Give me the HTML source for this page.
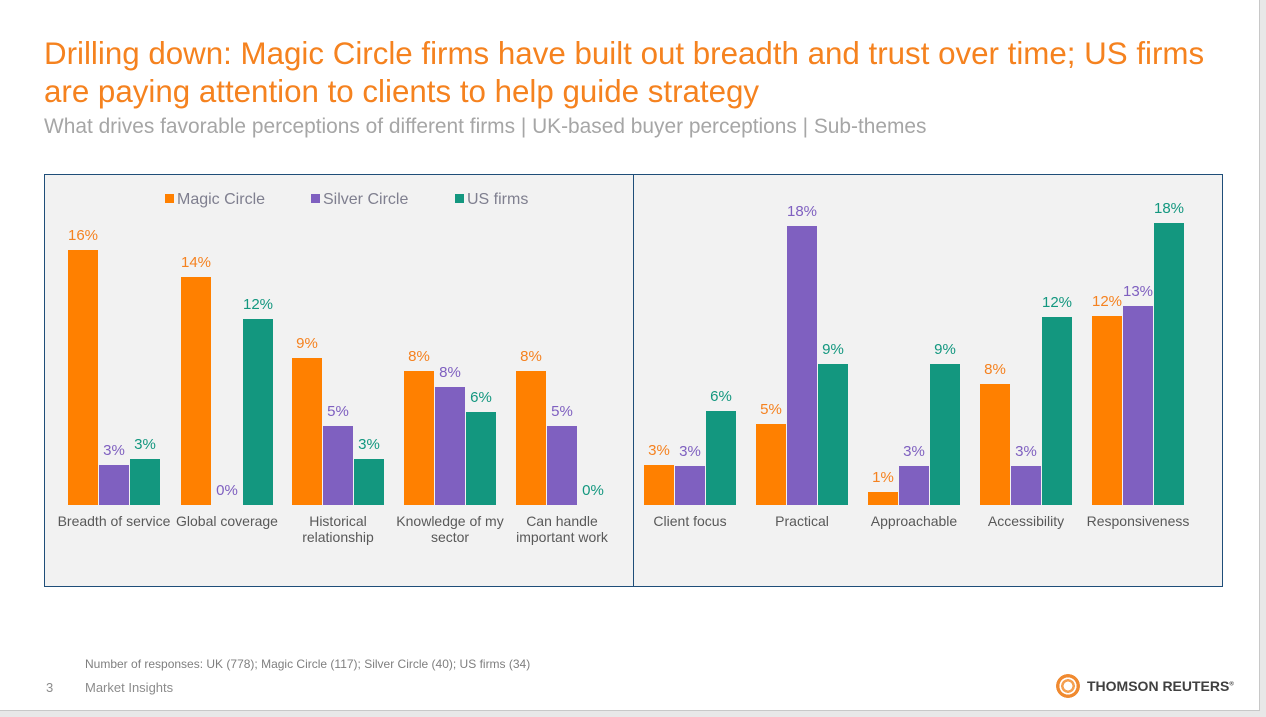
<!DOCTYPE html>
<html><head><meta charset="utf-8"><style>
body{margin:0;width:1266px;height:717px;background:#e8e8e8;font-family:"Liberation Sans",Arial,sans-serif;position:relative;overflow:hidden}
.slide{position:absolute;left:0;top:0;width:1259px;height:710px;background:#fff;border-right:1px solid #c8c8c8;border-bottom:1px solid #c8c8c8}
.t{position:absolute;white-space:nowrap}
.title{left:44px;top:35px;font-size:31.3px;color:#f5821f;line-height:38px}
.sub{left:44px;top:115px;font-size:20.9px;color:#a6a6a6}
.panel{position:absolute;top:174px;height:411px;background:#f2f2f2;border:1px solid #1f4e79}
.b{position:absolute;width:30px}
.o{background:#ff8000}.p{background:#7f60c0}.g{background:#13977f}
.v{position:absolute;width:60px;text-align:center;font-size:15px}
.vo{color:#f58220}.vp{color:#7f60c0}.vg{color:#13977f}
.c{position:absolute;width:130px;text-align:center;font-size:14px;color:#595959;line-height:16px;top:513px}
.lg{position:absolute;top:191px;font-size:16px;color:#7f7f8f}
.lg i{display:inline-block;width:9px;height:9px;margin-right:3px;vertical-align:1px}
</style></head><body>
<div class="slide">
<div class="t title">Drilling down: Magic Circle firms have built out breadth and trust over time; US firms<br>are paying attention to clients to help guide strategy</div>
<div class="t sub">What drives favorable perceptions of different firms | UK-based buyer perceptions | Sub-themes</div>
<div class="panel" style="left:44px;width:589px"></div>
<div class="panel" style="left:633px;width:588px"></div>
<div class="lg t" style="left:165px"><i class="o"></i>Magic Circle</div>
<div class="lg t" style="left:311px"><i class="p"></i>Silver Circle</div>
<div class="lg t" style="left:455px"><i class="g"></i>US firms</div>
<div id="bars"></div>
<div class="t" style="left:85px;top:657px;font-size:12px;color:#7f7f7f">Number of responses: UK (778); Magic Circle (117); Silver Circle (40); US firms (34)</div>
<div class="t" style="left:46px;top:680px;font-size:13px;color:#8c8c8c">3</div>
<div class="t" style="left:85px;top:680px;font-size:13px;color:#8c8c8c">Market Insights</div>
<div style="position:absolute;left:1056px;top:674px;width:24px;height:24px;border-radius:50%;background:radial-gradient(circle,#fff 0 25%,#f5a050 26% 40%,#fff 41% 50%,#f08a30 51% 70%,#fff 71%)"></div>
<div class="t" style="left:1087px;top:678px;font-size:14px;font-weight:bold;color:#404040">THOMSON REUTERS<sup style="font-size:6px">®</sup></div>
</div>
<script>
var base=505,data=[
[68,[[250,'16%'],[465,'3%'],[459,'3%']],'Breadth of service'],
[181,[[277,'14%'],[505,'0%'],[319,'12%']],'Global coverage'],
[292,[[358,'9%'],[426,'5%'],[459,'3%']],'Historical<br>relationship'],
[404,[[371,'8%'],[387,'8%'],[412,'6%']],'Knowledge of my<br>sector'],
[516,[[371,'8%'],[426,'5%'],[505,'0%']],'Can handle<br>important work'],
[644,[[465,'3%'],[466,'3%'],[411,'6%']],'Client focus'],
[756,[[424,'5%'],[226,'18%'],[364,'9%']],'Practical'],
[868,[[492,'1%'],[466,'3%'],[364,'9%']],'Approachable'],
[980,[[384,'8%'],[466,'3%'],[317,'12%']],'Accessibility'],
[1092,[[316,'12%'],[306,'13%'],[223,'18%']],'Responsiveness']];
var h='',cl=['o','p','g'];
data.forEach(function(d){d[1].forEach(function(b,i){var x=d[0]+i*31;
h+='<div class="b '+cl[i]+'" style="left:'+x+'px;top:'+b[0]+'px;height:'+(base-b[0])+'px"></div>';
h+='<div class="v v'+cl[i]+'" style="left:'+(x-15)+'px;top:'+(b[0]-23)+'px">'+b[1]+'</div>';});
h+='<div class="c" style="left:'+(d[0]-19)+'px">'+d[2]+'</div>';});
document.getElementById('bars').innerHTML=h;
</script>
</body></html>
